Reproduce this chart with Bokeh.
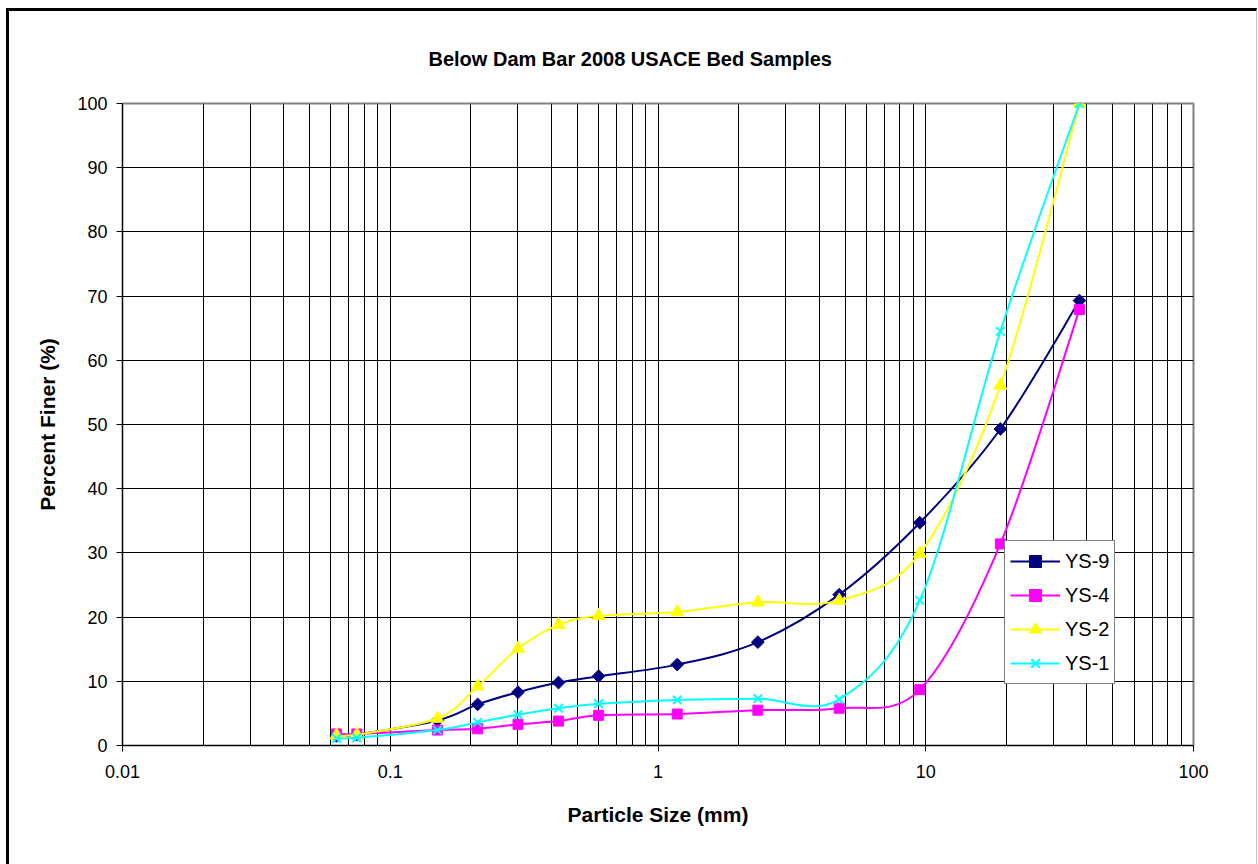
import numpy as np
from bokeh.plotting import figure
from bokeh.models import (FixedTicker, Legend, LegendItem, ColumnDataSource, Range1d)
from bokeh.embed import file_html
from bokeh.resources import INLINE

# ---------------- data ----------------
title_text = "Below Dam Bar 2008 USACE Bed Samples"
x_label = "Particle Size (mm)"
y_label = "Percent Finer (%)"

sizes_mm = [0.063, 0.075, 0.15, 0.212, 0.3, 0.425, 0.6, 1.18, 2.36, 4.75, 9.5, 19.0, 37.5]
ys9 = [1.5, 1.7, 3.9, 6.4, 8.3, 9.8, 10.8, 12.6, 16.1, 23.5, 34.7, 49.3, 69.3]
ys4 = [1.8, 1.8, 2.4, 2.6, 3.3, 3.8, 4.7, 4.9, 5.5, 5.8, 8.7, 31.4, 67.9]
ys2 = [1.6, 1.7, 4.2, 9.2, 15.1, 18.8, 20.2, 20.8, 22.3, 22.6, 29.9, 56.1, 100.0]
ys1 = [1.1, 1.2, 2.4, 3.6, 4.8, 5.8, 6.5, 7.1, 7.3, 7.2, 22.6, 64.5, 100.0]

series_names = ["YS-9", "YS-4", "YS-2", "YS-1"]
series_values = [ys9, ys4, ys2, ys1]

x_ticks = [0.01, 0.1, 1, 10, 100]
x_tick_labels = ["0.01", "0.1", "1", "10", "100"]
y_ticks = [0, 10, 20, 30, 40, 50, 60, 70, 80, 90, 100]
y_tick_labels = ["0", "10", "20", "30", "40", "50", "60", "70", "80", "90", "100"]

# ---------------- styles ----------------
FONT = "Liberation Sans"
styles = [
    dict(color="#000080", marker="square", size=9, angle=np.pi / 4, lw=1),
    dict(color="#FF00FF", marker="square", size=10, angle=0.0, lw=1),
    dict(color="#FFFF00", marker="triangle", size=13, angle=0.0, lw=1),
    dict(color="#00FFFF", marker="x", size=12, angle=0.0, lw=2),
]


def smooth_segments(xs, ys):
    """Cubic Bezier segments (Excel-style smoothing) computed in log-x space."""
    u = np.log10(np.asarray(xs, float))
    y = np.asarray(ys, float)
    n = len(u)
    up = np.r_[u[0], u, u[-1]]
    yp = np.r_[y[0], y, y[-1]]
    P0u, P1u, P2u, P3u = up[0:n - 1], up[1:n], up[2:n + 1], up[3:n + 2]
    P0y, P1y, P2y, P3y = yp[0:n - 1], yp[1:n], yp[2:n + 1], yp[3:n + 2]
    c0u = P1u + (P2u - P0u) / 6.0
    c0y = P1y + (P2y - P0y) / 6.0
    c1u = P2u - (P3u - P1u) / 6.0
    c1y = P2y - (P3y - P1y) / 6.0
    return ColumnDataSource(dict(
        x0=10 ** P1u, y0=P1y, x1=10 ** P2u, y1=P2y,
        cx0=10 ** c0u, cy0=c0y, cx1=10 ** c1u, cy1=c1y))


# canvas starts at page (9, 11) because of the chart-area border drawn with CSS
p = figure(x_axis_type="log", x_range=Range1d(0.01, 100), y_range=Range1d(0, 100),
           frame_width=1071, frame_height=642,
           min_border_left=113, min_border_right=63, min_border_top=92, min_border_bottom=125,
           output_backend="svg", toolbar_location=None, background_fill_color="white",
           border_fill_color="white", title=title_text)
p.styles = {"margin-left": "6px", "margin-top": "8px",
            "border-left": "3px solid black", "border-top": "3px solid black",
            "border-right": "1px solid #c0c0c0"}

p.title.align = "left"
p.title.offset = 306
p.title.standoff = 68
p.title.text_font = FONT
p.title.text_font_size = "20px"
p.title.text_font_style = "bold"
p.title.text_color = "black"

# grid
grid_vals = [k * 10.0 ** e for e in range(-2, 2) for k in range(1, 10)] + [100.0]
p.xgrid.ticker = FixedTicker(ticks=grid_vals)
p.xgrid.grid_line_color = "black"
p.xgrid.grid_line_width = 1
p.ygrid.ticker = FixedTicker(ticks=y_ticks)
p.ygrid.grid_line_color = "black"
p.ygrid.grid_line_width = 1
p.outline_line_color = "#808080"
p.outline_line_width = 2

# axes
p.xaxis.ticker = FixedTicker(ticks=x_ticks)
p.xaxis.major_label_overrides = {t: l for t, l in zip(x_ticks, x_tick_labels)}
p.yaxis.ticker = FixedTicker(ticks=y_ticks)
p.yaxis.major_label_overrides = {t: l for t, l in zip(y_ticks, y_tick_labels)}
for ax in (p.xaxis[0], p.yaxis[0]):
    ax.axis_line_color = "black"
    ax.axis_line_width = 1
    ax.major_tick_line_color = "black"
    ax.major_tick_out = 6
    ax.major_tick_in = 0
    ax.minor_tick_out = 0
    ax.minor_tick_in = 0
    ax.minor_tick_line_color = None
    ax.major_label_text_font = FONT
    ax.major_label_text_font_size = "18px"
    ax.major_label_text_color = "black"
    ax.axis_label_text_font = FONT
    ax.axis_label_text_font_size = "21px"
    ax.axis_label_text_font_style = "bold"
    ax.axis_label_text_color = "black"
p.xaxis.axis_label = x_label
p.yaxis.axis_label = y_label
p.xaxis.major_label_standoff = 13
p.xaxis.axis_label_standoff = 22
p.yaxis.major_label_standoff = 9
p.yaxis.axis_label_standoff = 15

items = []
for name, vals, st in zip(series_names, series_values, styles):
    src = smooth_segments(sizes_mm, vals)
    bz = p.bezier(x0="x0", y0="y0", x1="x1", y1="y1", cx0="cx0", cy0="cy0", cx1="cx1", cy1="cy1",
                  source=src, line_color=st["color"], line_width=2)
    sc = p.scatter(x=sizes_mm, y=vals, marker=st["marker"], size=st["size"], angle=st["angle"],
                   fill_color=st["color"], line_color=st["color"], line_width=st["lw"])
    items.append(LegendItem(label=name, renderers=[bz, sc]))

legend = Legend(items=items, location=(882, 61), orientation="vertical",
                border_line_color="black", border_line_width=1,
                background_fill_color="white", background_fill_alpha=1.0,
                label_text_font=FONT, label_text_font_size="20px", label_text_color="black",
                glyph_width=50, glyph_height=30, label_height=20, label_standoff=5,
                spacing=4, padding=5, margin=0)
p.add_layout(legend, "center")

open("out.html", "w").write(file_html(p, INLINE))
